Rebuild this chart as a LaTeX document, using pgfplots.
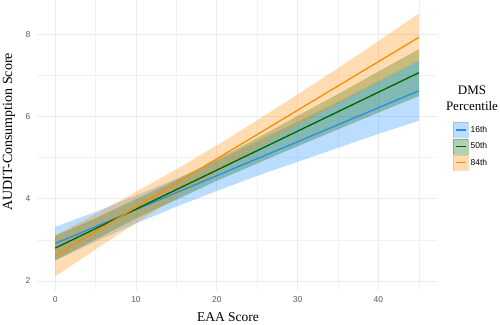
\documentclass[border=0pt]{standalone}
\usepackage{fontspec}
\setmainfont{Liberation Serif}
\setsansfont{Liberation Sans}
\usepackage{pgfplots}
\pgfplotsset{compat=1.18}
\usepgfplotslibrary{fillbetween}
\definecolor{c16}{HTML}{2E8BE6}
\definecolor{c50}{HTML}{006400}
\definecolor{c84}{HTML}{FF8C00}
\definecolor{f16}{HTML}{1E90FF}
\definecolor{tickgray}{HTML}{5A5A66}
\definecolor{gridc}{HTML}{EBEBEB}

\begin{document}
\begin{tikzpicture}
\begin{axis}[at={(0pt,0pt)}, anchor=south west, scale only axis,
  width=400pt, height=290pt,
  xmin=-2.25, xmax=47.25, ymin=1.78, ymax=8.84,
  xtick={0,10,20,30,40}, ytick={2,4,6,8},
  minor xtick={5,15,25,35,45}, minor ytick={3,5,7},
  grid=both,
  major grid style={color=gridc, line width=0.8pt},
  minor grid style={color=gridc!70, line width=0.5pt},
  axis line style={draw=none}, tick style={draw=none},
  ticklabel style={font=\sffamily\fontsize{8.5}{10}\selectfont, text=tickgray},
  xticklabel style={yshift=-3pt},
  yticklabel style={xshift=-3pt},
  /pgf/number format/assume math mode=true,
  xlabel={EAA Score}, ylabel={AUDIT-Consumption Score},
  xlabel style={font=\fontsize{13.5}{15}\selectfont, at={(rel axis cs:0.4775,-0.093)}, anchor=center},
  ylabel style={font=\fontsize{14}{15}\selectfont, at={(rel axis cs:-0.07,0.545)}, anchor=center},
  legend style={at={(rel axis cs:1.04,0.579)}, anchor=north west, draw=none, fill=none,
    inner sep=0pt, row sep=1pt, font=\sffamily\fontsize{8.5}{10}\selectfont,
    nodes={inner sep=2pt}},
  legend cell align=left,
]
% 16th
\addplot[name path=u16, draw=none, forget plot] coordinates {(0,3.32)(5,3.68)(10,4.08)(15,4.49)(20,4.93)(25,5.40)(30,5.88)(35,6.36)(40,6.86)(45,7.36)};
\addplot[name path=l16, draw=none, forget plot] coordinates {(0,2.50)(5,2.96)(10,3.40)(15,3.81)(20,4.19)(25,4.56)(30,4.90)(35,5.24)(40,5.58)(45,5.90)};
\addplot[f16, fill opacity=0.3, draw=none, forget plot] fill between[of=u16 and l16];
% 50th
\addplot[name path=u50, draw=none, forget plot] coordinates {(0,3.10)(5,3.53)(10,3.99)(15,4.46)(20,4.96)(25,5.48)(30,6.02)(35,6.55)(40,7.10)(45,7.64)};
\addplot[name path=l50, draw=none, forget plot] coordinates {(0,2.50)(5,3.01)(10,3.52)(15,3.98)(20,4.44)(25,4.86)(30,5.28)(35,5.69)(40,6.10)(45,6.50)};
\addplot[c50, fill opacity=0.3, draw=none, forget plot] fill between[of=u50 and l50];
% 84th
\addplot[name path=u84, draw=none, forget plot] coordinates {(0,3.11)(5,3.63)(10,4.17)(15,4.72)(20,5.30)(25,5.91)(30,6.54)(35,7.18)(40,7.84)(45,8.51)};
\addplot[name path=l84, draw=none, forget plot] coordinates {(0,2.11)(5,2.77)(10,3.41)(15,4.04)(20,4.64)(25,5.23)(30,5.78)(35,6.32)(40,6.84)(45,7.36)};
\addplot[c84, fill opacity=0.3, draw=none, forget plot] fill between[of=u84 and l84];
% lines
\addplot[c16, line width=1.3pt, forget plot] coordinates {(0,2.91)(45,6.63)};
\addplot[c50, line width=1.3pt, forget plot] coordinates {(0,2.80)(45,7.07)};
\addplot[c84, line width=1.3pt, forget plot] coordinates {(0,2.61)(45,7.93)};
% legend
\addlegendimage{legend image code/.code={\fill[f16,opacity=0.3] (0pt,-7.5pt) rectangle (15pt,7.5pt); \draw[c16,line width=1.3pt] (2.5pt,0pt)--(12.5pt,0pt);}}
\addlegendentry{16th}
\addlegendimage{legend image code/.code={\fill[c50,opacity=0.3] (0pt,-7.5pt) rectangle (15pt,7.5pt); \draw[c50,line width=1.3pt] (2.5pt,0pt)--(12.5pt,0pt);}}
\addlegendentry{50th}
\addlegendimage{legend image code/.code={\fill[c84,opacity=0.3] (0pt,-7.5pt) rectangle (15pt,7.5pt); \draw[c84,line width=1.3pt] (2.5pt,0pt)--(12.5pt,0pt);}}
\addlegendentry{84th}
\end{axis}
\node[font=\fontsize{13}{16}\selectfont, align=center] at (435pt,192pt) {DMS\\Percentile};
\pgfresetboundingbox
\path[use as bounding box] (-37pt,-34pt) rectangle (463pt,290pt);
\end{tikzpicture}
\end{document}
